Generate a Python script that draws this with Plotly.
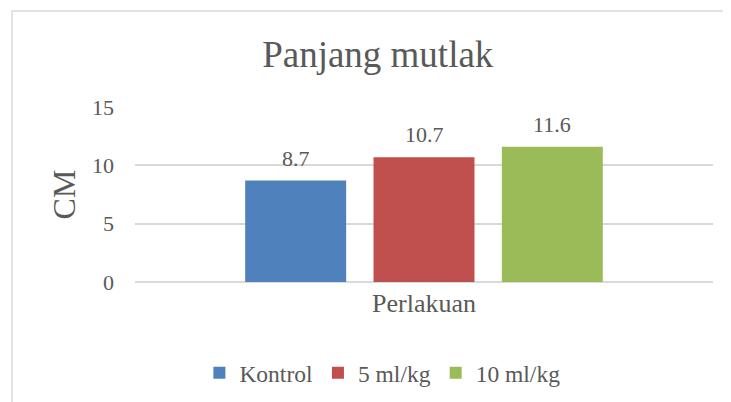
import plotly.graph_objects as go

# Data
category = ["Perlakuan"]
series_names = ["Kontrol", "5 ml/kg", "10 ml/kg"]
series_values = [8.7, 10.7, 11.6]
series_colors = ["#4F81BD", "#C0504D", "#9BBB59"]
y_ticks = [0, 5, 10, 15]

FONT = "Liberation Serif"
TEXT = "#595959"
GRID = "#D9D9D9"
BARGAP = 0.334
BARGROUPGAP = 0.213

fig = go.Figure()

# One trace per treatment so the legend lists each bar
for name, value, color in zip(series_names, series_values, series_colors):
    fig.add_trace(go.Bar(
        x=category,
        y=[value],
        name=name,
        marker=dict(color=color, line=dict(width=0)),
    ))

# Value labels sit a little higher than plotly's own outside text
slot = (1 - BARGAP) / len(series_values)
for i, value in enumerate(series_values):
    fig.add_annotation(
        x=(i - (len(series_values) - 1) / 2) * slot, xref="x",
        y=value, yref="y", yanchor="bottom", yshift=8,
        text=f"{value:.1f}", showarrow=False,
        font=dict(size=22, color=TEXT, family=FONT),
    )

# Light grey frame of the chart area (cut off at right and bottom)
fig.add_shape(type="rect", xref="paper", yref="paper",
              x0=-0.2128, x1=1.2, y0=-0.8, y1=1.549,
              line=dict(color=GRID, width=1.5), fillcolor="rgba(0,0,0,0)", layer="below")

fig.update_layout(
    width=731,
    height=402,
    margin=dict(l=127, r=26, t=99, b=128),
    paper_bgcolor="white",
    plot_bgcolor="white",
    font=dict(family=FONT, color=TEXT, size=22),
    title=dict(text="Panjang mutlak", x=0.42, xref="paper", xanchor="center",
               y=1 - 46 / 402, yref="container", yanchor="middle",
               font=dict(size=37, color=TEXT, family=FONT)),
    barmode="group",
    bargap=BARGAP,
    bargroupgap=BARGROUPGAP,
    showlegend=True,
    legend=dict(orientation="h", x=0.428, xanchor="center", y=-0.52, yanchor="middle",
                font=dict(size=23.5, color=TEXT, family=FONT), traceorder="normal"),
    xaxis=dict(showgrid=False, showline=False, zeroline=False, ticks="",
               ticklabelstandoff=3,
               tickfont=dict(size=26, color=TEXT, family=FONT)),
    yaxis=dict(range=[0, 15], tickvals=y_ticks, showgrid=True, gridcolor=GRID, gridwidth=1.5,
               zeroline=True, zerolinecolor=GRID, zerolinewidth=1.5, showline=False,
               ticks="", ticklabelstandoff=20,
               tickfont=dict(size=22, color=TEXT, family=FONT),
               title=dict(text="CM", standoff=6, font=dict(size=32, color=TEXT, family=FONT))),
)

fig.write_html("out.html")
